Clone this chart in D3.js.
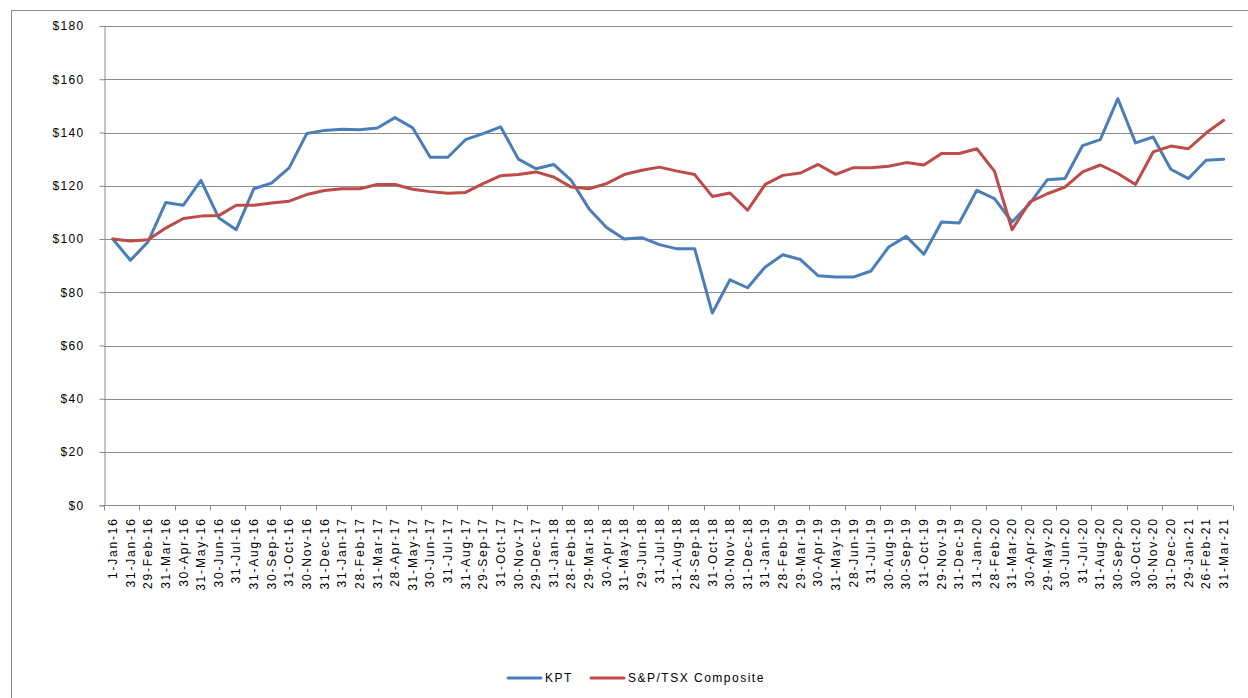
<!DOCTYPE html>
<html>
<head>
<meta charset="utf-8">
<script src="https://cdn.jsdelivr.net/npm/d3@7"></script>
<style>
  body { margin: 0; background: #fff; }
  svg { display: block; font-family: "Liberation Sans", Arial, sans-serif; }
</style>
</head>
<body>
<svg id="chart" width="1248" height="698"></svg>
<script>
// month-end dates on the category axis
const dates = [
  '1-Jan-16','31-Jan-16','29-Feb-16','31-Mar-16','30-Apr-16','31-May-16','30-Jun-16','31-Jul-16',
  '31-Aug-16','30-Sep-16','31-Oct-16','30-Nov-16','31-Dec-16','31-Jan-17','28-Feb-17','31-Mar-17',
  '28-Apr-17','31-May-17','30-Jun-17','31-Jul-17','31-Aug-17','29-Sep-17','31-Oct-17','30-Nov-17',
  '29-Dec-17','31-Jan-18','28-Feb-18','29-Mar-18','30-Apr-18','31-May-18','29-Jun-18','31-Jul-18',
  '31-Aug-18','28-Sep-18','31-Oct-18','30-Nov-18','31-Dec-18','31-Jan-19','28-Feb-19','29-Mar-19',
  '30-Apr-19','31-May-19','28-Jun-19','31-Jul-19','30-Aug-19','30-Sep-19','31-Oct-19','29-Nov-19',
  '31-Dec-19','31-Jan-20','28-Feb-20','31-Mar-20','30-Apr-20','29-May-20','30-Jun-20','31-Jul-20',
  '31-Aug-20','30-Sep-20','30-Oct-20','30-Nov-20','31-Dec-20','29-Jan-21','26-Feb-21','31-Mar-21'
];

const kpt = [
  100, 92.0, 99.0, 113.7, 112.7, 122.0, 108.0, 103.5,
  118.9, 121.0, 126.7, 139.6, 140.8, 141.2, 141.0, 141.7,
  145.6, 141.8, 130.7, 130.7, 137.3, 139.6, 142.1, 130.0,
  126.4, 128.0, 122.0, 111.4, 104.3, 100.0, 100.5, 97.9,
  96.3, 96.3, 72.2, 84.7, 81.7, 89.5, 94.1, 92.3,
  86.2, 85.7, 85.7, 88.0, 97.0, 101.0, 94.3, 106.4,
  106.0, 118.3, 115.2, 106.4, 113.3, 122.3, 122.7, 135.1,
  137.3, 152.7, 136.1, 138.3, 126.2, 122.7, 129.6, 130.0
];

const tsx = [
  100, 99.3, 99.7, 104.1, 107.7, 108.6, 108.8, 112.7,
  112.7, 113.5, 114.2, 116.7, 118.2, 118.9, 118.9, 120.5,
  120.5, 118.7, 117.8, 117.2, 117.5, 120.8, 123.8, 124.2,
  125.2, 123.3, 119.5, 118.9, 120.8, 124.2, 125.8, 127.0,
  125.5, 124.2, 116.0, 117.3, 110.8, 120.5, 123.9, 124.8,
  128.0, 124.3, 126.8, 126.8, 127.3, 128.7, 127.8, 132.1,
  132.1, 133.9, 125.5, 103.5, 113.9, 117.0, 119.5, 125.2,
  127.8, 124.6, 120.5, 132.7, 134.9, 133.9, 139.8, 144.6
];

const yTicks = [0, 20, 40, 60, 80, 100, 120, 140, 160, 180];

const series = [
  { name: 'KPT', values: kpt, color: '#4a7ebb' },
  { name: 'S&P/TSX Composite', values: tsx, color: '#be4b48' }
];

const svg = d3.select('#chart');
const plot = { left: 104, right: 1232.5, top: 26, bottom: 505.3 };
const gridColor = '#8a8a8a';

// outer chart border (runs past the window on the right and bottom)
svg.append('rect')
  .attr('x', 11.5).attr('y', 10.5)
  .attr('width', 1260).attr('height', 720)
  .attr('fill', 'none').attr('stroke', '#8c8c8c').attr('stroke-width', 1);

const x = d3.scaleBand().domain(dates).range([plot.left, plot.right]).padding(0);
const y = d3.scaleLinear().domain([0, 180]).range([plot.bottom, plot.top]);

// horizontal gridlines
svg.append('g')
  .selectAll('line')
  .data(yTicks.filter(d => d > 0))
  .join('line')
  .attr('x1', plot.left).attr('x2', plot.right)
  .attr('y1', d => Math.round(y(d)) + 0.5).attr('y2', d => Math.round(y(d)) + 0.5)
  .attr('stroke', gridColor).attr('stroke-width', 1);

// y axis
const yAxis = svg.append('g')
  .attr('transform', `translate(${plot.left + 0.5},0)`)
  .call(d3.axisLeft(y).tickValues(yTicks).tickSize(5).tickPadding(15).tickFormat(d => '$' + d));
yAxis.select('.domain').attr('stroke', gridColor);
yAxis.selectAll('.tick line').attr('stroke', gridColor);
yAxis.selectAll('.tick text')
  .attr('fill', '#000')
  .style('font-size', '12px')
  .style('letter-spacing', '1.3px');

// x axis: a tick mark every second category, a label on every category
const xBase = Math.round(plot.bottom) + 0.5;
svg.append('line')
  .attr('x1', plot.left).attr('x2', plot.right)
  .attr('y1', xBase).attr('y2', xBase)
  .attr('stroke', gridColor);

const tickPos = dates.filter((d, i) => i % 2 === 0).map(d => x(d)).concat([plot.right]);
svg.append('g')
  .selectAll('line')
  .data(tickPos)
  .join('line')
  .attr('x1', d => Math.round(d) + 0.5).attr('x2', d => Math.round(d) + 0.5)
  .attr('y1', xBase).attr('y2', xBase + 5)
  .attr('stroke', gridColor);

svg.append('g')
  .selectAll('text')
  .data(dates)
  .join('text')
  .attr('transform', d => `translate(${x(d) + x.bandwidth() / 2},${plot.bottom + 12}) rotate(-90)`)
  .attr('text-anchor', 'end')
  .attr('dy', '0.35em')
  .style('font-size', '12px')
  .style('letter-spacing', '1.8px')
  .attr('fill', '#000')
  .text(d => d);

// series lines
const line = d3.line()
  .x((d, i) => x(dates[i]) + x.bandwidth() / 2)
  .y(d => y(d));

svg.append('g')
  .selectAll('path')
  .data(series)
  .join('path')
  .attr('d', d => line(d.values))
  .attr('fill', 'none')
  .attr('stroke', d => d.color)
  .attr('stroke-width', 3)
  .attr('stroke-linejoin', 'round')
  .attr('stroke-linecap', 'round');

// legend
const legendPos = [508, 591];
const legend = svg.append('g')
  .selectAll('g')
  .data(series)
  .join('g')
  .attr('transform', (d, i) => `translate(${legendPos[i]},678)`);
legend.append('line')
  .attr('x1', 0).attr('x2', 33)
  .attr('stroke', d => d.color).attr('stroke-width', 3).attr('stroke-linecap', 'round');
legend.append('text')
  .attr('x', 37).attr('dy', '0.35em')
  .style('font-size', '12px')
  .style('letter-spacing', '1.5px')
  .attr('fill', '#000')
  .text(d => d.name);
</script>
</body>
</html>
